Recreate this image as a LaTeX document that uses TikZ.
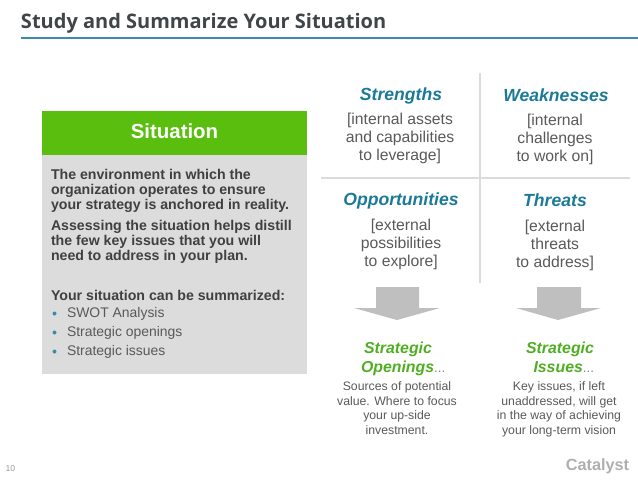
\documentclass[tikz,border=0pt]{standalone}
\usepackage{fontspec}
\setmainfont{Liberation Sans}
\newfontfamily\titlefont{Open Sans}
\definecolor{titlegray}{HTML}{404548}
\definecolor{bodygray}{HTML}{595959}
\definecolor{darkgray}{HTML}{404040}
\definecolor{ruleteal}{HTML}{3A8CA8}
\definecolor{headteal}{HTML}{1B7A97}
\definecolor{boxgreen}{HTML}{5ABE0E}
\definecolor{headgreen}{HTML}{50AE22}
\definecolor{boxgray}{HTML}{DCDCDC}
\definecolor{linegray}{HTML}{DBDBDB}
\definecolor{arrowgray}{HTML}{BFBFBF}
\tikzset{
  txt/.style={inner sep=0pt, outer sep=0pt, align=left},
  boldtxt/.style={txt, anchor=north west, text=darkgray, font=\fontsize{10.62}{11.3}\selectfont\bfseries},
  listtxt/.style={txt, anchor=west, text=bodygray, font=\fontsize{10.45}{12}\selectfont},
  bullet/.style={circle, fill=ruleteal, inner sep=0pt, minimum size=3pt},
  swothead/.style={txt, anchor=base, align=center, text=headteal, font=\fontsize{13.2}{15}\selectfont\bfseries\itshape},
  swottxt/.style={txt, align=center, anchor=north, text=bodygray, font=\fontsize{11.8}{13.5}\selectfont},
  stratpart/.style={txt, anchor=base, align=center, text=headgreen, font=\fontsize{11.9}{14}\selectfont\bfseries\itshape},
  strattxt/.style={txt, align=center, anchor=north, text=bodygray, font=\fontsize{9.2}{10.8}\selectfont}
}
\begin{document}
\begin{tikzpicture}[x=0.75pt,y=-0.75pt]
  \useasboundingbox (0,0) rectangle (638,479);
  % header
  \node[txt, anchor=base west, text=titlegray, font=\titlefont\fontsize{15}{18}\selectfont\bfseries] (title) at (21,28) {Study and Summarize Your Situation};
  \draw[color=ruleteal, line width=1.1pt] (20.5,38) -- (638,38);
  % situation panel
  \fill[boxgray] (42,155) rectangle (307,374);
  \fill[boxgreen] (42,111) rectangle (307,155);
  \node[txt, text=white, font=\fontsize{15.3}{17}\selectfont\bfseries] (situation) at (174.5,131.5) {Situation};
  \node[boldtxt] (envtxt) at (51,169) {The environment in which the\\organization operates to ensure\\your strategy is anchored in reality.};
  \node[boldtxt] (asstxt) at (51,220) {Assessing the situation helps distill\\the few key issues that you will\\need to address in your plan.};
  \node[boldtxt] (sumtxt) at (51,290) {Your situation can be summarized:};
  \node[bullet] (b1) at (54.5,313.5) {};
  \node[bullet] (b2) at (54.5,332.5) {};
  \node[bullet] (b3) at (54.5,351.5) {};
  \node[listtxt] (l1) at (67,313.5) {SWOT Analysis};
  \node[listtxt] (l2) at (67,332.5) {Strategic openings};
  \node[listtxt] (l3) at (67,351.5) {Strategic issues};
  % swot grid
  \draw[color=linegray, line width=1.4pt] (480,73) -- (480,283);
  \draw[color=linegray, line width=2pt] (321,178) -- (630,178);
  \node[swothead] (str) at (401,100) {Strengths};
  \node[swothead] (wea) at (556,101) {Weaknesses};
  \node[swothead] (opp) at (401,205) {Opportunities};
  \node[swothead] (thr) at (555,206) {Threats};
  \node[swottxt] (strtxt) at (400,113) {[internal assets\\and capabilities\\to leverage]};
  \node[swottxt] (weatxt) at (555,114) {[internal\\challenges\\to work on]};
  \node[swottxt] (opptxt) at (401,219) {[external\\possibilities\\to explore]};
  \node[swottxt] (thrtxt) at (555,220) {[external\\threats\\to address]};
  % down arrows
  \fill[arrowgray] (376,287) -- (419,287) -- (419,308) -- (440,308) -- (397,320) -- (354,308) -- (376,308) -- cycle;
  \fill[arrowgray] (537,287) -- (581,287) -- (581,308) -- (601,308) -- (558,320) -- (516,308) -- (537,308) -- cycle;
  % strategic results
  \node[stratpart] (op1) at (398,353) {Strategic};
  \node[stratpart, anchor=base west] (op2) at (361,372) {Openings{\mdseries\upshape\color{arrowgray!70!black}\fontsize{10}{10}\selectfont...}};
  \node[stratpart] (is1) at (560,353) {Strategic};
  \node[stratpart, anchor=base west] (is2) at (533.5,372) {Issues{\mdseries\upshape\color{arrowgray!70!black}\fontsize{10}{10}\selectfont...}};
  \node[strattxt] (optxt) at (397,382) {Sources of potential\\value. Where to focus\\your up-side\\investment.};
  \node[strattxt] (istxt) at (559,382) {Key issues, if left\\unaddressed, will get\\in the way of achieving\\your long-term vision};
  % footer
  \node[txt, text=arrowgray!80!black, font=\fontsize{6.5}{8}\selectfont] (pagenum) at (10.5,469) {10};
  \node[txt, text=linegray!80!black, font=\fontsize{12.2}{15}\selectfont\bfseries] (catalyst) at (597.5,466) {Catalyst};
\end{tikzpicture}
\end{document}
